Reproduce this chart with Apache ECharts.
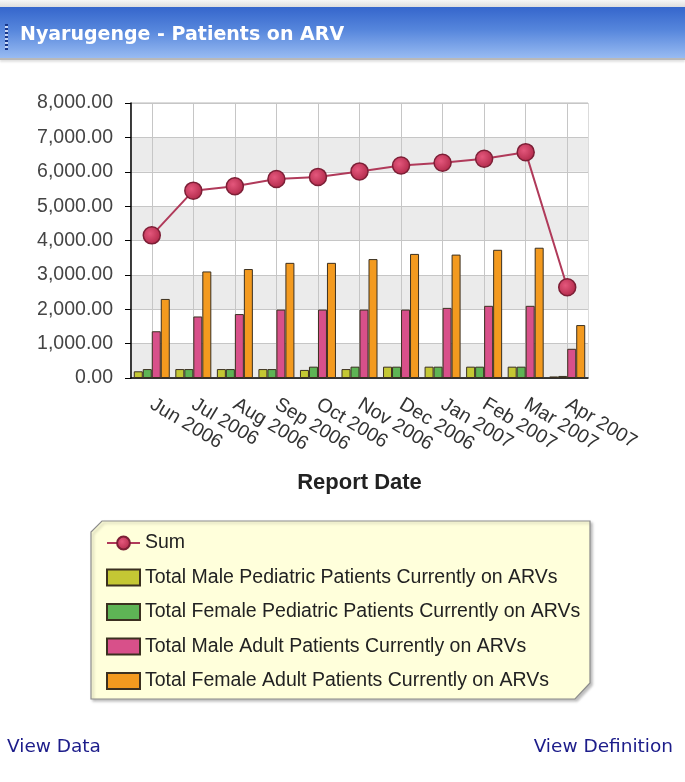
<!DOCTYPE html>
<html>
<head>
<meta charset="utf-8">
<title>Nyarugenge - Patients on ARV</title>
<script src="https://cdn.jsdelivr.net/npm/echarts@6/dist/echarts.min.js"></script>
<style>
  html, body { margin: 0; padding: 0; background: #fff; }
  #page { position: relative; width: 685px; height: 782px; overflow: hidden; }
  #chart { position: absolute; left: 0; top: 0; width: 685px; height: 782px; }
  #topband { position: absolute; left: 0; top: 0; width: 685px; height: 7px;
    background: linear-gradient(#f6f6f6, #dedede); }
  #titlebar { position: absolute; left: 0; top: 7px; width: 685px; height: 51px;
    background: linear-gradient(#3566cc, #5686dc 45%, #98bbf2);
    border-bottom: 2px solid #b9b9b9; box-shadow: 0 2px 2px #e2e2e2; }
  #grip { position: absolute; left: 5px; top: 17px; width: 3px; height: 26px;
    background: repeating-linear-gradient(#17378a 0 2px, #c9d8f5 2px 4px); }
  #titlebar span { position: absolute; left: 20px; top: 15px; color: #fff;
    font: bold 19px "DejaVu Sans", sans-serif; }
  .lnk { position: absolute; top: 735px; color: #1c1c8a;
    font: 18.5px "DejaVu Sans", sans-serif; }
</style>
</head>
<body>
<div id="page">
  <div id="chart"></div>
  <div id="topband"></div>
  <div id="titlebar"><div id="grip"></div><span>Nyarugenge - Patients on ARV</span></div>
  <div class="lnk" style="left:7px">View Data</div>
  <div class="lnk" style="right:12px">View Definition</div>
</div>
<script>
const categories = ['Jun 2006', 'Jul 2006', 'Aug 2006', 'Sep 2006', 'Oct 2006', 'Nov 2006',
  'Dec 2006', 'Jan 2007', 'Feb 2007', 'Mar 2007', 'Apr 2007'];
const sumValues = [4150, 5450, 5580, 5790, 5850, 6010, 6180, 6260, 6380, 6570, 2640];
const malePediatric = [195, 260, 260, 260, 235, 260, 330, 330, 330, 330, 45];
const femalePediatric = [260, 260, 260, 260, 330, 330, 330, 330, 330, 330, 60];
const maleAdult = [1360, 1790, 1860, 1990, 1990, 1990, 1990, 2040, 2100, 2100, 850];
const femaleAdult = [2300, 3100, 3170, 3350, 3350, 3460, 3610, 3590, 3730, 3790, 1540];

const names = [
  'Sum',
  'Total Male Pediatric Patients Currently on ARVs',
  'Total Female Pediatric Patients Currently on ARVs',
  'Total Male Adult Patients Currently on ARVs',
  'Total Female Adult Patients Currently on ARVs'
];

const font = '"Liberation Sans", Arial, sans-serif';

const myChart = echarts.init(document.getElementById('chart'), null, { renderer: 'canvas' });

const barSeries = (name, data, color) => ({
  name: name,
  type: 'bar',
  data: data,
  barWidth: 9,
  barGap: '0%',
  itemStyle: { color: color, borderColor: '#3b3020', borderWidth: 1 }
});

const markerFill = new echarts.graphic.RadialGradient(0.4, 0.4, 0.6, [
  { offset: 0, color: '#e4577c' },
  { offset: 1, color: '#b32b4c' }
]);

const option = {
  animation: false,
  textStyle: { fontFamily: font },
  graphic: [{
    type: 'polygon',
    z: -1,
    shape: { points: [[102, 521], [590, 521], [590, 683], [575, 699], [91, 699], [91, 532]] },
    style: {
      fill: '#ffffdb', stroke: '#8c8c8c', lineWidth: 1.2,
      shadowBlur: 3, shadowOffsetX: 2, shadowOffsetY: 2, shadowColor: 'rgba(0,0,0,0.25)'
    }
  }],
  grid: {
    left: 131, top: 103, width: 457, height: 275,
    show: true, borderColor: '#b8b8b8', borderWidth: 1, backgroundColor: 'transparent'
  },
  legend: {
    data: [
      { name: names[0] },
      { name: names[1], icon: 'rect' },
      { name: names[2], icon: 'rect' },
      { name: names[3], icon: 'rect' },
      { name: names[4], icon: 'rect' }
    ],
    orient: 'vertical',
    left: 101,
    top: 528,
    itemWidth: 33,
    itemHeight: 16,
    itemGap: 14.5,
    textStyle: { fontSize: 19.5, lineHeight: 19, color: '#222', fontFamily: font }
  },
  xAxis: {
    type: 'category',
    data: categories,
    axisLine: { lineStyle: { color: '#000', width: 1.5 } },
    axisTick: { alignWithLabel: true, length: 6, lineStyle: { color: '#000' } },
    axisLabel: { interval: 0, rotate: -31, margin: 25, fontSize: 19.5, color: '#333', fontFamily: font },
    splitLine: { show: true, alignWithLabel: true, lineStyle: { color: '#c6c6c6' } },
    name: 'Report Date',
    nameLocation: 'middle',
    nameGap: 94,
    nameTextStyle: { fontSize: 22, fontWeight: 'bold', color: '#222', fontFamily: font }
  },
  yAxis: {
    type: 'value',
    min: 0,
    max: 8000,
    interval: 1000,
    axisLine: { show: true, lineStyle: { color: '#000', width: 1.5 } },
    axisTick: { show: true, length: 6, lineStyle: { color: '#000' } },
    axisLabel: {
      margin: 18, fontSize: 19.5, color: '#444', fontFamily: font,
      formatter: (v) => v.toLocaleString('en-US', { minimumFractionDigits: 2, maximumFractionDigits: 2 })
    },
    splitLine: { show: true, lineStyle: { color: '#c6c6c6' } },
    splitArea: { show: true, areaStyle: { color: ['#ebebeb', '#ffffff'] } }
  },
  series: [
    {
      name: names[0],
      type: 'line',
      data: sumValues,
      z: 5,
      symbol: 'circle',
      symbolSize: 17,
      lineStyle: { color: '#b03a5a', width: 2 },
      itemStyle: { color: markerFill, borderColor: '#7c1f36', borderWidth: 1.5 }
    },
    barSeries(names[1], malePediatric, '#c4c734'),
    barSeries(names[2], femalePediatric, '#5eb455'),
    barSeries(names[3], maleAdult, '#d8508a'),
    barSeries(names[4], femaleAdult, '#f39a1f')
  ]
};

myChart.setOption(option);

window.addEventListener('resize', () => myChart.resize());
</script>
</body>
</html>
